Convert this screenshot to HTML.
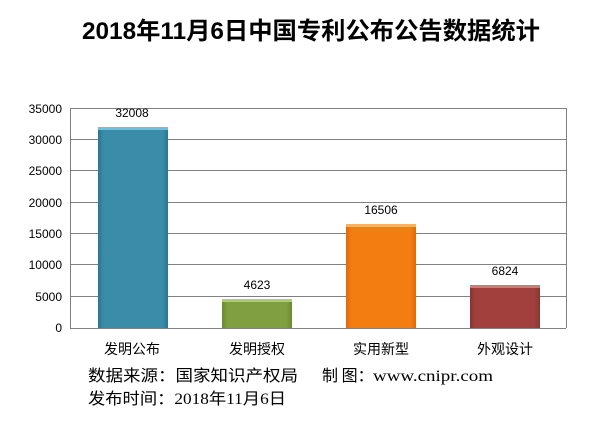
<!DOCTYPE html>
<html><head><meta charset="utf-8"><style>
body{margin:0;background:#fff;}
svg{display:block;font-family:"Liberation Sans","Noto Sans CJK SC",sans-serif;}
</style></head><body>
<svg width="608" height="427" viewBox="0 0 608 427">
<defs>
<linearGradient id="g1" x1="0" x2="1"><stop offset="0" stop-color="#2a7690"/><stop offset="0.08" stop-color="#3a8ca8"/><stop offset="0.92" stop-color="#3a8ca8"/><stop offset="1" stop-color="#2a7690"/></linearGradient>
<linearGradient id="g2" x1="0" x2="1"><stop offset="0" stop-color="#6a8a30"/><stop offset="0.08" stop-color="#809f40"/><stop offset="0.92" stop-color="#809f40"/><stop offset="1" stop-color="#6a8a30"/></linearGradient>
<linearGradient id="g3" x1="0" x2="1"><stop offset="0" stop-color="#e06a0a"/><stop offset="0.08" stop-color="#f47d12"/><stop offset="0.92" stop-color="#f47d12"/><stop offset="1" stop-color="#e06a0a"/></linearGradient>
<linearGradient id="g4" x1="0" x2="1"><stop offset="0" stop-color="#8a3432"/><stop offset="0.08" stop-color="#a1403d"/><stop offset="0.92" stop-color="#a1403d"/><stop offset="1" stop-color="#8a3432"/></linearGradient>
</defs>
<text x="82" y="39" textLength="458" lengthAdjust="spacingAndGlyphs" font-size="24" font-weight="bold" fill="#000">2018年11月6日中国专利公布公告数据统计</text>
<g stroke="#808080" stroke-width="1">
<line x1="70" y1="108.5" x2="566" y2="108.5"/>
<line x1="70" y1="139.5" x2="566" y2="139.5"/>
<line x1="70" y1="170.5" x2="566" y2="170.5"/>
<line x1="70" y1="202.5" x2="566" y2="202.5"/>
<line x1="70" y1="233.5" x2="566" y2="233.5"/>
<line x1="70" y1="264.5" x2="566" y2="264.5"/>
<line x1="70" y1="296.5" x2="566" y2="296.5"/>
<line x1="70.5" y1="108" x2="70.5" y2="328"/>
<line x1="566.5" y1="108" x2="566.5" y2="328"/>
</g>
<g font-size="12" fill="#000" text-anchor="end">
<text x="62" y="113">35000</text><text x="62" y="144">30000</text><text x="62" y="175">25000</text><text x="62" y="207">20000</text><text x="62" y="238">15000</text><text x="62" y="269">10000</text><text x="62" y="301">5000</text><text x="62" y="332">0</text>
</g>
<rect x="98" y="127" width="70" height="201" fill="url(#g1)"/><rect x="98" y="127" width="70" height="3" fill="#6fc0dc"/>
<rect x="222" y="299" width="70" height="29" fill="url(#g2)"/><rect x="222" y="299" width="70" height="3" fill="#b0cc70"/>
<rect x="346" y="224" width="70" height="104" fill="url(#g3)"/><rect x="346" y="224" width="70" height="3" fill="#fbb060"/>
<rect x="470" y="285" width="70" height="43" fill="url(#g4)"/><rect x="470" y="285" width="70" height="3" fill="#d07a78"/>
<line x1="70" y1="328.5" x2="566" y2="328.5" stroke="#808080"/>
<g font-size="12" fill="#000" text-anchor="middle">
<text x="132" y="117">32008</text><text x="257" y="289">4623</text><text x="381" y="214">16506</text><text x="505" y="275">6824</text>
</g>
<g font-size="14" fill="#000" text-anchor="middle">
<text x="132" y="354">发明公布</text><text x="257" y="354">发明授权</text><text x="381" y="354">实用新型</text><text x="505" y="354">外观设计</text>
</g>
<g font-size="16" fill="#000">
<text x="88" y="381" textLength="210" lengthAdjust="spacingAndGlyphs">数据来源：国家知识产权局</text>
<text x="322" y="381" font-family="'Noto Sans CJK SC',sans-serif">制 图：</text>
<text x="373" y="381" textLength="120" lengthAdjust="spacingAndGlyphs" font-family="'Liberation Serif',serif">www.cnipr.com</text>
<text x="88" y="404" textLength="198" lengthAdjust="spacingAndGlyphs" font-family="'Liberation Serif','Noto Sans CJK SC',serif">发布时间：2018年11月6日</text>
</g>
</svg>
</body></html>
